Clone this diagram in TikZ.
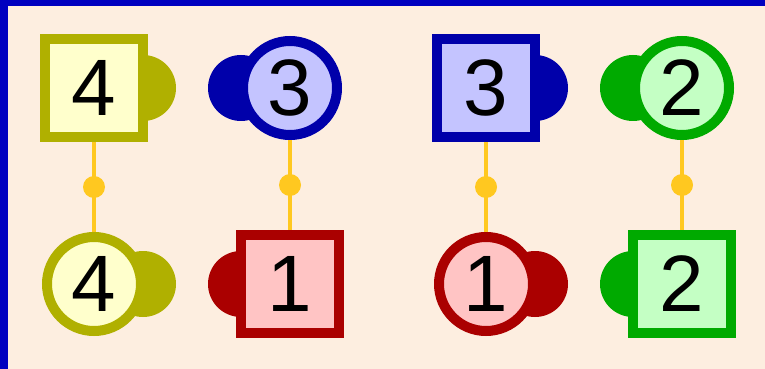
\documentclass[tikz,border=0pt]{standalone}
\usepackage{fontspec}
\setmainfont{Liberation Sans}
\usetikzlibrary{positioning,backgrounds}
\definecolor{PegOlive}{HTML}{B0B000}
\definecolor{PegOliveFill}{HTML}{FFFFCC}
\definecolor{PegBlue}{HTML}{0000AA}
\definecolor{PegBlueFill}{HTML}{C4C4FF}
\definecolor{PegRed}{HTML}{AA0000}
\definecolor{PegRedFill}{HTML}{FFC4C4}
\definecolor{PegGreen}{HTML}{00AA00}
\definecolor{PegGreenFill}{HTML}{C4FFC4}
\definecolor{LinkGold}{HTML}{FFC820}
\definecolor{PanelBeige}{HTML}{FDEEE0}
\definecolor{FrameBlue}{HTML}{0000C0}
\tikzset{
  peg/.style={draw, line width=5pt, inner sep=0pt,
              font=\fontsize{40}{40}\selectfont},
  sqpeg/.style={peg, rectangle, minimum size=49pt},
  cipeg/.style={peg, circle, minimum size=47pt},
  olive/.style={draw=PegOlive, fill=PegOliveFill},
  blue/.style={draw=PegBlue, fill=PegBlueFill},
  red/.style={draw=PegRed, fill=PegRedFill},
  green/.style={draw=PegGreen, fill=PegGreenFill},
  link/.style={draw=LinkGold, line width=2pt},
  linkdot/.style={circle, fill=LinkGold, inner sep=0pt, minimum size=11pt}
}
\newcommand{\knobright}[2]{\fill[#2] ([xshift=24.5pt]#1.center) circle (16.5pt);}
\newcommand{\knobleft}[2]{\fill[#2] ([xshift=-24.5pt]#1.center) circle (16.5pt);}

\begin{document}
\begin{tikzpicture}[node distance=98pt, on grid]
  \useasboundingbox (0,0) rectangle (382.5pt,-184.5pt);
  % top row
  \node[sqpeg, olive] (sqA) at (47pt,-44pt) {4};
  \node[cipeg, blue, right=of sqA] (ciB) {3};
  \node[sqpeg, blue, right=of ciB] (sqC) {3};
  \node[cipeg, green, right=of sqC] (ciD) {2};
  % bottom row
  \node[cipeg, olive, below=of sqA] (ciA) {4};
  \node[sqpeg, red, below=of ciB] (sqB) {1};
  \node[cipeg, red, below=of sqC] (ciC) {1};
  \node[sqpeg, green, below=of ciD] (sqD) {2};
  % links
  \draw[link] (sqA) -- node[linkdot] {} (ciA);
  \draw[link] (ciB) -- node[linkdot] {} (sqB);
  \draw[link] (sqC) -- node[linkdot] {} (ciC);
  \draw[link] (ciD) -- node[linkdot] {} (sqD);
  \begin{scope}[on background layer]
    \fill[PanelBeige] (0,0) rectangle (382.5pt,-184.5pt);
    \fill[FrameBlue] (0,0) rectangle (4pt,-184.5pt);
    \fill[FrameBlue] (0,0) rectangle (382.5pt,-3pt);
    \knobright{sqA}{PegOlive}
    \knobright{ciA}{PegOlive}
    \knobleft{ciB}{PegBlue}
    \knobleft{sqB}{PegRed}
    \knobright{sqC}{PegBlue}
    \knobright{ciC}{PegRed}
    \knobleft{ciD}{PegGreen}
    \knobleft{sqD}{PegGreen}
  \end{scope}
\end{tikzpicture}
\end{document}
